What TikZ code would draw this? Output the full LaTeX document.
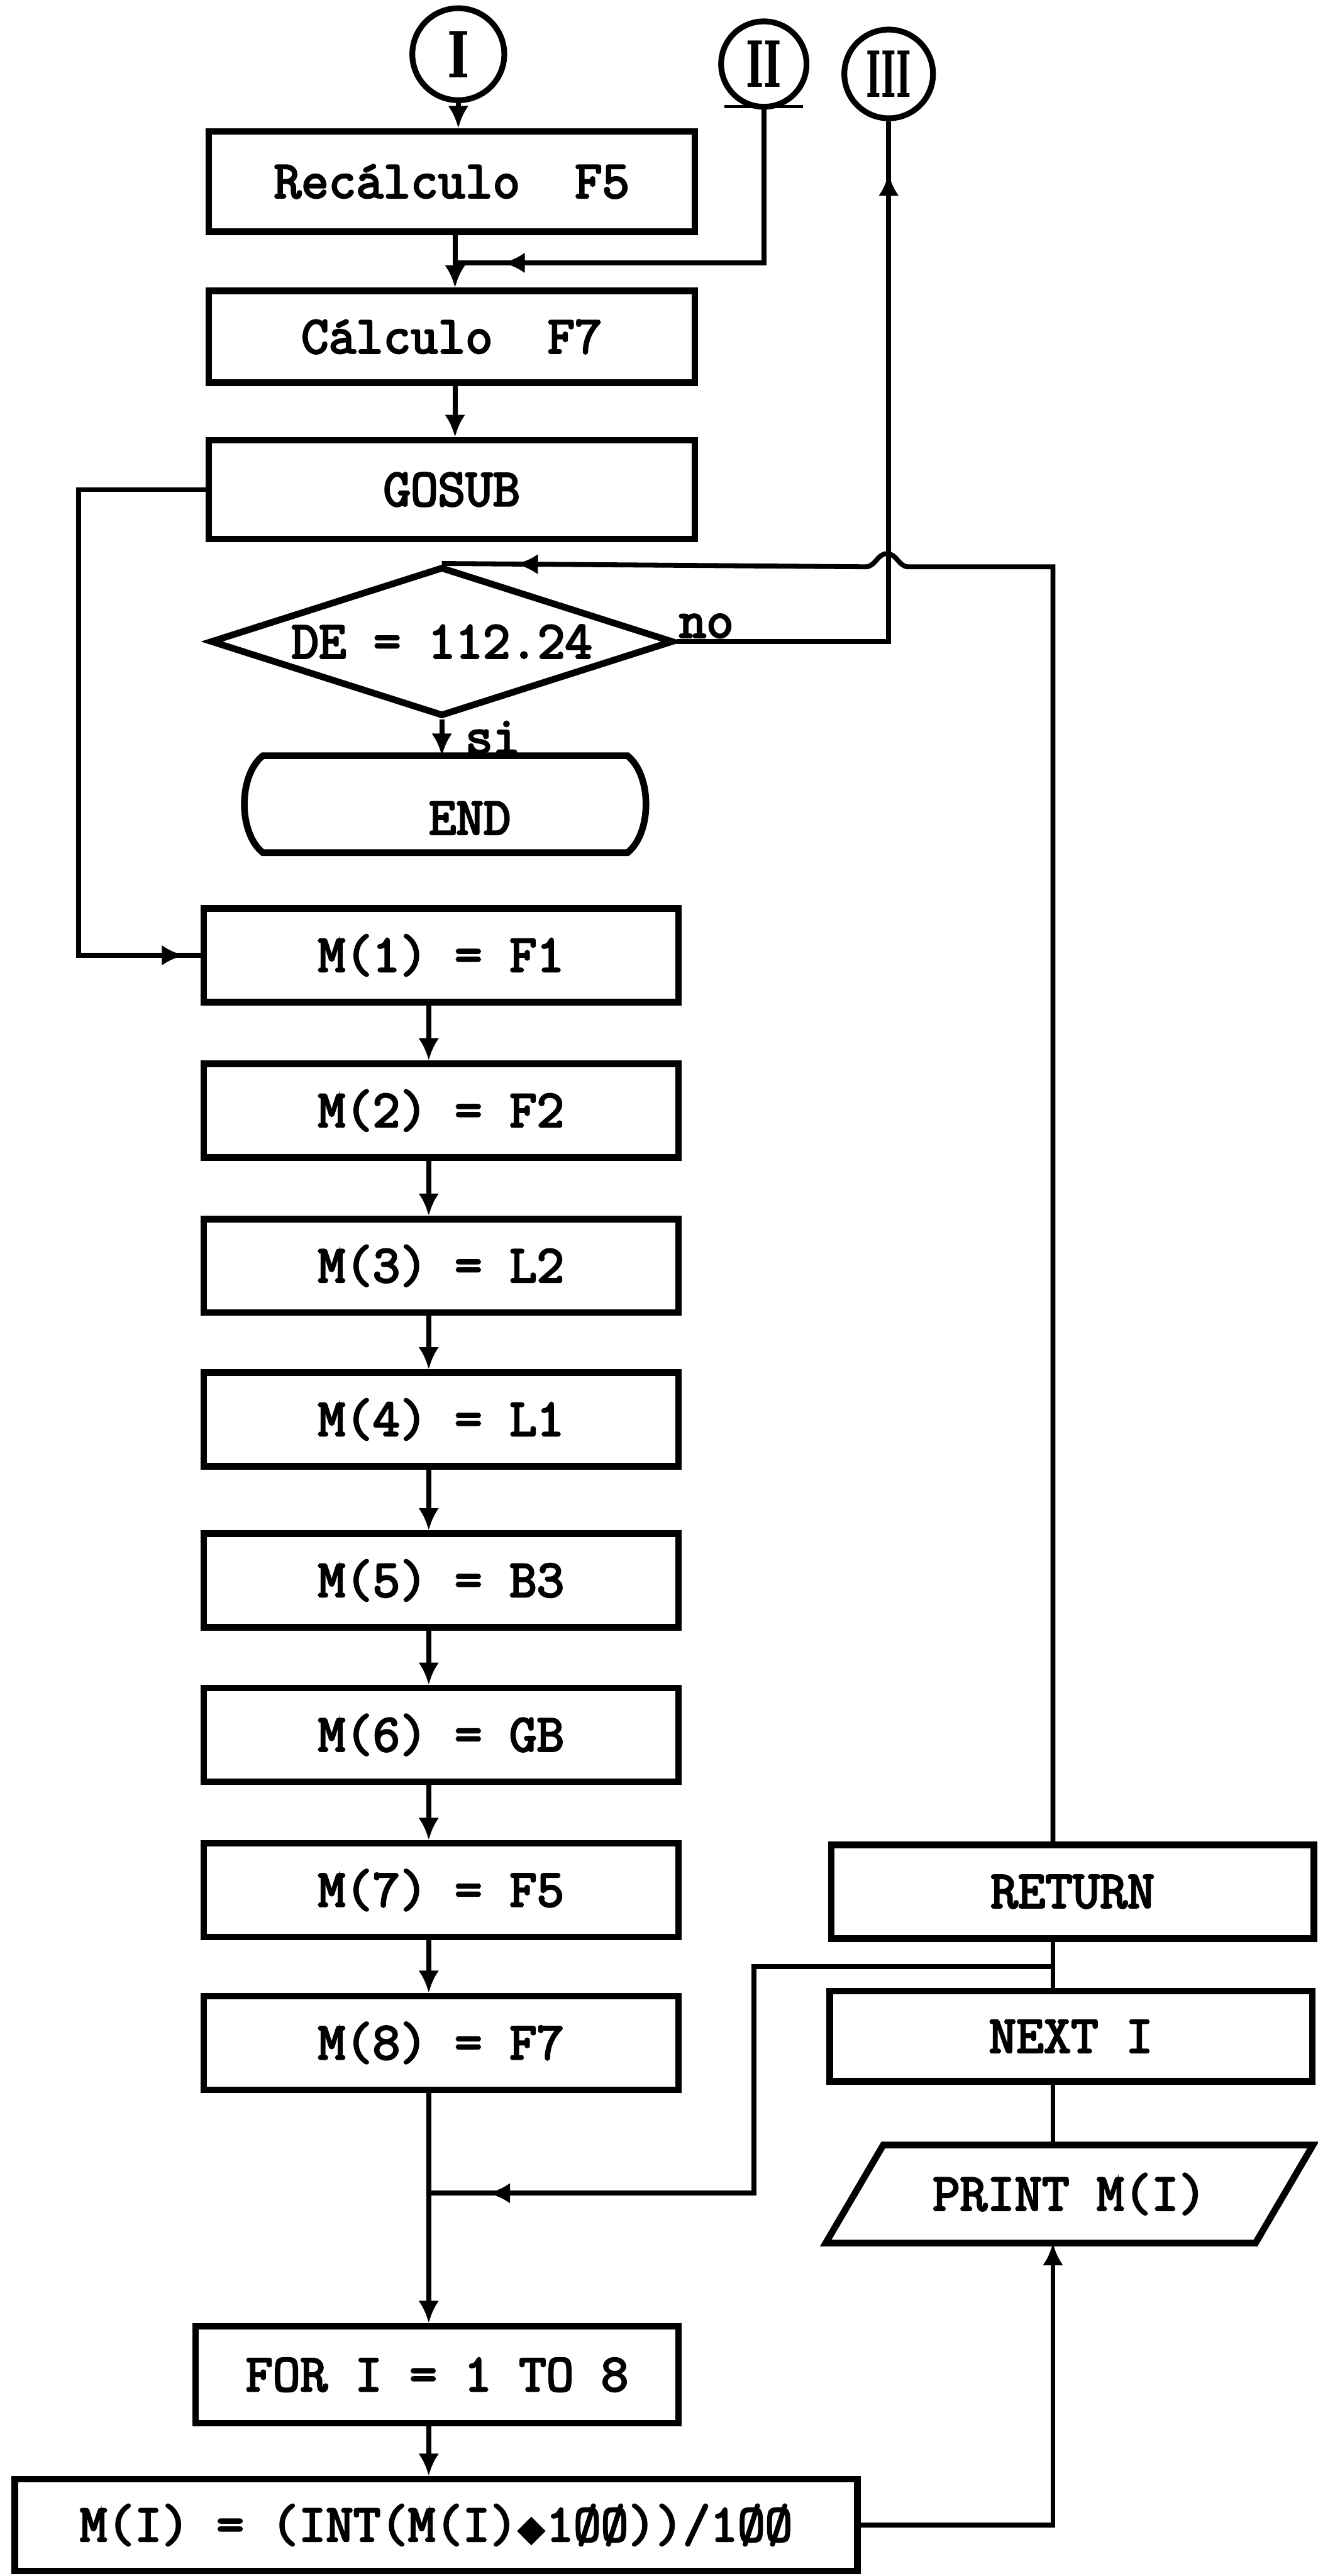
\documentclass[tikz,border=0pt]{standalone}
\usepackage{fontspec}
\usepackage{graphicx}
\newfontfamily\dser{DejaVu Serif}
\newfontfamily\dv{DejaVu Sans}
\newfontfamily\twb{Latin Modern Mono}[FakeBold=3.5]
\usetikzlibrary{arrows.meta,decorations.markings,calc,shapes.geometric}
\begin{document}
\begin{tikzpicture}[x=0.02cm,y=-0.02cm,
  >={Latex[length=0.27cm,width=0.25cm]},
  every node/.style={font=\twb\fontsize{18.4}{18.4}\selectfont},
  proc/.style={draw,line width=2.3pt,inner sep=0pt,minimum width=5.78cm,minimum height=1.14cm},
  conn/.style={line width=1.7pt},
  arr/.style={conn,->},
  midarr/.style={conn,postaction={decorate,decoration={markings,mark=at position #1 with {\arrow{>}}}}},
  conncirc/.style={draw,circle,line width=2pt,inner sep=0pt,font=\dser\bfseries\fontsize{22}{22}\selectfont},
  lbl/.style={inner sep=0pt}
]
\fill[white] (0,0) rectangle (802,1568);
\useasboundingbox (0,0) rectangle (802,1568);

% columns
\coordinate (cT) at (277,0);
\coordinate (cM) at (261,0);
\coordinate (cR) at (641,0);

% connectors circles
\node[conncirc,minimum size=1.12cm] (c1) at (279,33) {\scalebox{0.75}[1]{I}};
\node[conncirc,minimum size=1.04cm] (c2) at (465,39) {\scalebox{0.6}[1]{II}};
\node[conncirc,minimum size=1.08cm] (c3) at (541,45) {\scalebox{0.5}[1]{III}};

% top boxes
\node[proc,minimum width=5.92cm,minimum height=1.22cm] (recalc) at (275,110.5) {Recálculo\ \ F5};
\node[proc,minimum width=5.92cm,minimum height=1.12cm] (calc) at (275,205) {Cálculo\ \ F7};
\node[proc,minimum width=5.92cm,minimum height=1.2cm] (gosub) at (275,298) {\raisebox{-0.12cm}{GOSUB}};
\node[draw,diamond,aspect=3.1,line width=2.3pt,inner sep=0pt,minimum width=5.64cm,minimum height=1.82cm] (dec) at (269,390.5) {DE = 112.24};

% END terminal
\node[lbl] (endn) at (286,498) {END};
\coordinate (endtop) at (269,460);
\draw[line width=2.3pt] (160,460) -- (382,460) .. controls (397,472) and (397,507) .. (382,519) -- (160,519) .. controls (145,507) and (145,472) .. (160,460) -- cycle;

% M boxes
\node[proc] (m1) at (268.5,581.5) {M(1) = F1};
\node[proc] (m2) at (268.5,676) {M(2) = F2};
\node[proc] (m3) at (268.5,770.5) {M(3) = L2};
\node[proc] (m4) at (268.5,864) {M(4) = L1};
\node[proc] (m5) at (268.5,962) {M(5) = B3};
\node[proc] (m6) at (268.5,1056) {M(6) = GB};
\node[proc] (m7) at (268.5,1150.5) {M(7) = F5};
\node[proc] (m8) at (268.5,1243.5) {M(8) = F7};
\node[proc,minimum width=5.88cm,minimum height=1.18cm] (for) at (266,1445.5) {FOR I = 1 TO 8};
\node[proc,minimum width=10.26cm,minimum height=1.12cm] (mi) at (265.5,1537) {M(I) = (INT(M(I){\dv\fontsize{13}{13}\selectfont ◆}1ØØ))/1ØØ};

% right column
\node[proc,minimum width=5.88cm,minimum height=1.14cm] (ret) at (653,1151.5) {RETURN};
\node[proc,minimum width=5.88cm,minimum height=1.1cm] (next) at (652,1239.5) {NEXT I};
\node[inner sep=0pt,minimum width=5.22cm,minimum height=1.18cm] (print) at (651,1335.5) {PRINT M(I)};
\draw[line width=2.3pt] ($(print.north west)+(17.5,0)$) -- ($(print.north east)+(17.5,0)$) -- ($(print.south east)+(-17.5,0)$) -- ($(print.south west)+(-17.5,0)$) -- cycle;

% labels
\node[lbl] (no) at (430,381) {no};
\node[lbl] (si) at (300,449) {si};

% junction coordinates
\coordinate (j1) at (277,160);
\coordinate (lcol) at (48,581.5);
\coordinate (j2) at (261,1335);
\coordinate (j3) at (641,1197);
\coordinate (jl) at (459,1335);

% flow
\draw[arr] (c1.south) -- (recalc.north -| c1.south);
\draw[arr] (recalc.south -| cT) -- (calc.north -| cT);
\draw[midarr=-0.58cm] (c2.south) |- (j1);
\draw[line width=1pt] (441,65) -- (489,65);
\draw[arr] (calc.south -| cT) -- (gosub.north -| cT);
\draw[midarr=-0.2cm] (gosub.west) -| (lcol) -- (m1.west);
\draw[midarr=-0.64cm] (dec.east) -| (c3.south);
\draw[midarr=-0.9cm] (ret.north -| cR) -- (641,345) -- (553,345) .. controls (547,345) and (546,337) .. (540,337) .. controls (534,337) and (533,345) .. (527,345) -- (dec.north);
\draw[arr] (dec.south) -- (endtop);
\draw[arr] (m1.south -| cM) -- (m2.north -| cM);
\draw[arr] (m2.south -| cM) -- (m3.north -| cM);
\draw[arr] (m3.south -| cM) -- (m4.north -| cM);
\draw[arr] (m4.south -| cM) -- (m5.north -| cM);
\draw[arr] (m5.south -| cM) -- (m6.north -| cM);
\draw[arr] (m6.south -| cM) -- (m7.north -| cM);
\draw[arr] (m7.south -| cM) -- (m8.north -| cM);
\draw[arr] (m8.south -| cM) -- (for.north -| cM);
\draw[conn] (ret.south -| cR) -- (next.north -| cR);
\draw[midarr=-0.72cm] (j3) -| (jl) -- (j2);
\draw[arr] (for.south -| cM) -- (mi.north -| cM);
\draw[conn] (next.south -| cR) -- (print.north -| cR);
\draw[arr] (mi.east) -| (print.south -| cR);
\end{tikzpicture}
\end{document}
